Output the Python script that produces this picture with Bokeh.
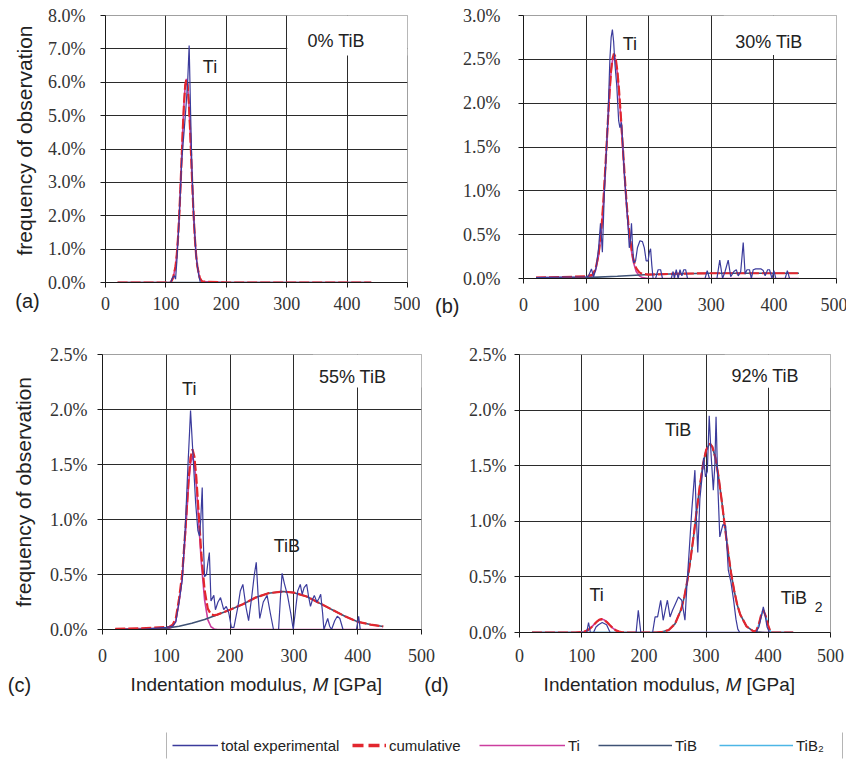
from math import pi
from bokeh.plotting import figure
from bokeh.models import (Range1d, FixedTicker, PrintfTickFormatter, Label,
                          BoxAnnotation, Legend, LegendItem)
from bokeh.layouts import column, row
from bokeh.embed import file_html
from bokeh.resources import INLINE

# ---------------- data (percent of observations vs indentation modulus, GPa) -------------
X_TICKS = [0, 100, 200, 300, 400, 500]
X_GRID = [100, 200, 300, 400]
A_YTICKS = [0, 1, 2, 3, 4, 5, 6, 7, 8]
B_YTICKS = [0, 0.5, 1.0, 1.5, 2.0, 2.5, 3.0]
CD_YTICKS = [0, 0.5, 1.0, 1.5, 2.0, 2.5]

# (a) 0% TiB
a_exp_x = [20, 60, 100, 108, 111, 114, 116, 118, 122, 126, 130, 133, 136, 138.5, 141, 143, 146, 150, 154, 157, 200, 300, 440]
a_exp_y = [0, 0, 0, 0, 0.15, 0.2, 0.1, 0.6, 1.9, 3.6, 4.5, 5.2, 6.0, 7.1, 5.0, 3.5, 2.0, 0.8, 0.25, 0, 0, 0, 0]
a_ti_x = [20, 60, 100, 108, 112, 116, 118, 120, 122, 124, 126, 128, 130, 132, 134, 136, 138, 140, 142, 144,
          146, 148, 150, 152, 156, 160, 200, 300, 440]
a_ti_y = [0, 0, 0, 0.0, 0.14, 0.49, 0.83, 1.32, 1.98, 2.79, 3.7, 4.6, 5.38, 5.91, 6.1, 5.91, 5.38, 4.6, 3.7, 2.79,
          1.98, 1.32, 0.83, 0.49, 0.14, 0.03, 0, 0, 0]
a_tib_x = [20, 440]
a_tib_y = [0, 0]
a_cum_x = [20, 60, 100, 108, 112, 116, 118, 120, 122, 124, 126, 128, 130, 132, 134, 136, 138, 140, 142, 144,
           146, 148, 150, 152, 156, 160, 200, 300, 440]
a_cum_y = [0, 0, 0, 0.0, 0.14, 0.49, 0.83, 1.32, 1.98, 2.79, 3.7, 4.6, 5.38, 5.91, 6.1, 5.91, 5.38, 4.6, 3.7, 2.79,
           1.98, 1.32, 0.83, 0.49, 0.14, 0.03, 0, 0, 0]

# (b) 30% TiB
b_exp_x = [20, 60, 100, 104, 108.5, 112, 116, 120, 123, 126, 129, 132, 135, 138, 140, 142, 144, 146, 149, 152,
           154, 156.5, 158.5, 161, 164, 167, 169, 170.5, 172.5, 174, 176, 179, 182, 186, 190, 193, 196, 199, 201, 203,
           205, 207, 211, 215, 219, 222, 236, 239, 241, 244, 247, 250, 253, 256, 259, 262, 290, 293.5, 297, 309,
           313.5, 318, 322, 327, 331, 336, 340, 343, 347, 351, 354, 357, 361, 364, 367, 371, 375, 379, 383, 386,
           390, 393, 397, 400, 403, 418, 421.5, 425, 440]
b_exp_y = [0.01, 0.015, 0.02, 0.03, 0.11, 0.02, 0.12, 0.35, 0.63, 0.3, 0.95, 1.4, 1.85, 2.5, 2.75, 2.84, 2.7, 2.45, 2.2, 1.8,
           1.72, 1.78, 1.55, 1.2, 0.9, 0.6, 0.35, 0.4, 0.63, 0.4, 0.18, 0.2, 0.35, 0.43, 0.42, 0.35, 0.2, 0.2, 0.3, 0.34,
           0.15, 0.0, 0.0, 0.1, 0.1, 0.0, 0.0, 0.08, 0.0, 0.1, 0.0, 0.1, 0.03, 0.1, 0.1, 0.0, 0.0, 0.09, 0.0, 0.0,
           0.21, 0.0, 0.08, 0.21, 0.02, 0.08, 0.1, 0.03, 0.08, 0.41, 0.05, 0.1, 0.1, 0.0, 0.1, 0.11, 0.11, 0.11, 0.09, 0.03,
           0.1, 0.1, 0.0, 0.09, 0.0, 0.0, 0.09, 0.0, 0.0]
b_ti_x = [20, 60, 100, 110, 115, 120, 125, 127.5, 130, 132.5, 135, 137.5, 140, 142, 144.5, 147, 150, 152.5, 155, 157.5,
          160, 162.5, 165, 167.5, 170, 175, 180, 185, 190, 200, 250, 300, 350, 400, 440]
b_ti_y = [0.01, 0.01, 0.015, 0.03, 0.09, 0.26, 0.6, 0.85, 1.15, 1.47, 1.8, 2.11, 2.36, 2.48, 2.54, 2.5, 2.34, 2.13, 1.88, 1.6,
          1.32, 1.05, 0.8, 0.59, 0.43, 0.2, 0.08, 0.03, 0.01, 0, 0, 0, 0, 0, 0]
b_tib_x = [20, 60, 100, 110, 150, 200, 250, 300, 350, 400, 440]
b_tib_y = [0.0, 0.005, 0.01, 0.013, 0.025, 0.045, 0.055, 0.06, 0.06, 0.06, 0.06]
b_cum_x = [20, 60, 100, 110, 115, 120, 125, 127.5, 130, 132.5, 135, 137.5, 140, 142, 144.5, 147, 150, 152.5, 155, 157.5,
           160, 162.5, 165, 167.5, 170, 175, 180, 185, 190, 200, 250, 300, 350, 400, 440]
b_cum_y = [0.01, 0.015, 0.025, 0.043, 0.105, 0.276, 0.618, 0.869, 1.17, 1.491, 1.821, 2.132, 2.383, 2.504, 2.565, 2.525,
           2.365, 2.157, 1.908, 1.629, 1.35, 1.081, 0.832, 0.623, 0.464, 0.236, 0.118, 0.07, 0.052, 0.045,
           0.055, 0.06, 0.06, 0.06, 0.06]

# (c) 55% TiB
c_exp_x = [20, 60, 100, 110, 115, 120, 125, 130, 134, 136.5, 138, 142, 146, 149.5, 152, 154, 156.3, 158, 160, 163,
           165, 167.5, 170, 174.5, 177, 181, 185, 190, 194, 198, 202, 206, 212, 216, 220, 225, 229, 234, 238, 241,
           244, 246.5, 252, 258, 263, 268, 276, 279, 281.5, 285, 290, 295, 299, 303, 306, 310, 313, 316, 320, 323,
           326, 329, 332, 336, 339, 342, 345, 347, 350, 353, 356, 359, 364, 368, 372, 377, 398, 401.5, 404, 440]
c_exp_y = [0.0, 0.0, 0.02, 0.03, 0.07, 0.25, 0.45, 0.96, 1.5, 1.8, 1.99, 1.57, 1.15, 0.9, 0.85, 1.0, 1.29, 0.8, 0.48, 0.5,
           0.6, 0.7, 0.26, 0.31, 0.18, 0.25, 0.29, 0.18, 0.21, 0.15, 0.02, 0.02, 0.2, 0.35, 0.41, 0.2, 0.08, 0.3, 0.5, 0.61,
           0.3, 0.1, 0.25, 0.31, 0.15, 0.0, 0.0, 0.3, 0.51, 0.42, 0.31, 0.15, 0.0, 0.2, 0.35, 0.41, 0.32, 0.38, 0.41, 0.3,
           0.21, 0.27, 0.31, 0.25, 0.28, 0.32, 0.15, 0.0, 0.05, 0.1, 0.03, 0.0, 0.08, 0.12, 0.1, 0.0, 0.0, 0.12, 0.0, 0.0]
c_ti_x = [20, 60, 100, 105, 110, 115, 120, 125, 130, 135, 138, 141, 144, 147, 150, 155, 160, 165, 170, 175, 180, 440]
c_ti_y = [0.005, 0.008, 0.01, 0.01, 0.025, 0.08, 0.25, 0.47, 0.87, 1.32, 1.51, 1.58, 1.51, 1.32, 1.05, 0.6, 0.27, 0.09,
          0.025, 0.005, 0, 0]
c_tib_x = [20, 60, 100, 120, 140, 160, 180, 200, 220, 240, 260, 283, 300, 320, 340, 360, 380, 400, 420, 440]
c_tib_y = [0.0, 0.003, 0.012, 0.03, 0.057, 0.09, 0.135, 0.18, 0.23, 0.29, 0.33, 0.345, 0.335, 0.3, 0.24, 0.18, 0.12,
           0.07, 0.045, 0.028]
c_cum_x = [20, 60, 100, 105, 110, 115, 120, 125, 130, 135, 138, 141, 144, 147, 150, 155, 160, 165, 170, 175,
           180, 200, 220, 240, 260, 283, 300, 320, 340, 360, 380, 400, 420, 440]
c_cum_y = [0.005, 0.011, 0.022, 0.025, 0.043, 0.104, 0.28, 0.506, 0.913, 1.37, 1.564, 1.638, 1.572, 1.387, 1.122, 0.68,
           0.36, 0.19, 0.137, 0.129, 0.135, 0.18, 0.23, 0.29, 0.33, 0.345, 0.335, 0.3, 0.24, 0.18, 0.12, 0.07, 0.045, 0.028]

# (d) 92% TiB
d_exp_x = [20, 105, 108, 111, 114, 119, 123, 127, 133, 140, 145.7, 187.5, 191, 195, 214, 218, 222, 227, 231, 235,
           237.8, 242, 246, 250, 255.5, 260.8, 264, 266, 269, 273, 277, 282, 284, 286.6, 290, 293, 296, 299, 302, 305,
           308, 311.6, 314, 316, 319, 322, 327, 331.5, 335.7, 340, 344, 348, 351, 354, 380, 385, 389, 392, 395, 398,
           402, 440]
d_exp_y = [0, 0, 0, 0.09, 0.0, 0.0, 0.05, 0.07, 0.09, 0.07, 0.0, 0.0, 0.2, 0.0, 0.0, 0.14, 0.14, 0.29, 0.11, 0.22,
           0.29, 0.14, 0.2, 0.25, 0.32, 0.29, 0.18, 0.11, 0.41, 0.75, 1.1, 1.46, 1.1, 0.72, 1.2, 1.37, 1.57, 1.4, 1.45, 1.95,
           1.6, 1.28, 1.5, 1.94, 1.3, 0.86, 0.97, 0.96, 0.56, 0.45, 0.3, 0.12, 0.03, 0.0, 0.0, 0.05, 0.15, 0.23, 0.15, 0.05,
           0.0, 0.0]
d_ti_x = [20, 90, 100, 105, 110, 115, 120, 125, 128, 132, 136, 140, 145, 150, 155, 160, 165, 170, 440]
d_ti_y = [0, 0, 0.0035, 0.0095, 0.022, 0.044, 0.073, 0.101, 0.114, 0.12, 0.114, 0.096, 0.067, 0.039, 0.019, 0.008,
          0.002, 0, 0]
d_tib_x = [20, 220, 230, 240, 250, 260, 265, 270, 275, 280, 285, 290, 295, 300, 306, 310, 315, 320, 325, 330,
           335, 340, 345, 350, 355, 365, 375, 385, 395, 440]
d_tib_y = [0, 0, 0.006, 0.023, 0.077, 0.21, 0.32, 0.47, 0.66, 0.87, 1.1, 1.32, 1.51, 1.64, 1.70, 1.67, 1.57, 1.40, 1.19,
           0.96, 0.74, 0.54, 0.38, 0.25, 0.16, 0.055, 0.015, 0.003, 0, 0]
d_tib2_x = [20, 380, 385, 388, 392, 396, 399, 404, 440]
d_tib2_y = [0, 0, 0.075, 0.145, 0.2, 0.145, 0.075, 0, 0]
d_cum_x = [20, 90, 100, 105, 110, 115, 120, 125, 128, 132, 136, 140, 145, 150, 155, 160, 165, 170, 220, 230,
           240, 250, 260, 265, 270, 275, 280, 285, 290, 295, 300, 306, 310, 315, 320, 325, 330, 335, 340, 345,
           350, 355, 365, 375, 380, 385, 388, 392, 396, 399, 404, 440]
d_cum_y = [0, 0, 0.0035, 0.0095, 0.022, 0.044, 0.073, 0.101, 0.114, 0.12, 0.114, 0.096, 0.067, 0.039, 0.019, 0.008,
           0.002, 0, 0, 0.006, 0.023, 0.077, 0.21, 0.32, 0.47, 0.66, 0.87, 1.1, 1.32, 1.51, 1.64, 1.70, 1.67, 1.57, 1.40,
           1.19, 0.96, 0.74, 0.54, 0.38, 0.25, 0.16, 0.055, 0.015, 0.008, 0.078, 0.147, 0.201, 0.145, 0.075, 0, 0]

SERIES_NAMES = ["total experimental", "cumulative", "Ti", "TiB", "TiB\u2082"]
Y_TITLE = "frequency of observation"
X_TITLE_PARTS = ["Indentation modulus,", "M", "[GPa]"]

# ---------------- styles ----------------
C_EXP = "#3b3b9c"
C_CUM = "#e2262e"
C_TI = "#cc3d9e"
C_TIB = "#3f5275"
C_TIB2 = "#4cb6e6"
SERIF = "Liberation Serif"
SANS = "Liberation Sans"
TXT = "#222222"
ROW1_TOP = 15   # frames in one row share their top border


def make_panel(fw, fh, bl, br, bt, bb, ymax, yticks, xstand, ystand, ylabel=None):
    p = figure(frame_width=fw, frame_height=fh,
               min_border_left=bl, min_border_right=br, min_border_top=bt, min_border_bottom=bb,
               x_range=Range1d(0, 500), y_range=Range1d(0, ymax),
               output_backend="svg", toolbar_location=None, title=None)
    p.background_fill_color = "white"
    p.border_fill_color = "white"
    p.outline_line_color = "#a0a0a0"
    p.xaxis.ticker = FixedTicker(ticks=X_TICKS)
    p.yaxis.ticker = FixedTicker(ticks=yticks)
    p.yaxis.formatter = PrintfTickFormatter(format="%.1f%%")
    p.xgrid.ticker = FixedTicker(ticks=X_GRID)
    p.ygrid.ticker = FixedTicker(ticks=yticks[1:-1])
    for g in (p.xgrid, p.ygrid):
        g.grid_line_color = "#2b2b2b"
        g.grid_line_width = 1
    for ax in (p.xaxis, p.yaxis):
        ax.axis_line_color = "#1a1a1a"
        ax.major_tick_line_color = "#1a1a1a"
        ax.major_tick_in = 0
        ax.major_tick_out = 5
        ax.minor_tick_line_color = None
        ax.major_label_text_font = SERIF
        ax.major_label_text_font_size = "18px"
        ax.major_label_text_color = "#333333"
    p.xaxis.major_label_standoff = xstand
    p.yaxis.major_label_standoff = ystand
    if ylabel:
        p.yaxis.axis_label = ylabel
        p.yaxis.axis_label_text_font = SANS
        p.yaxis.axis_label_text_font_size = "21px"
        p.yaxis.axis_label_text_font_style = "normal"
        p.yaxis.axis_label_text_color = TXT
        p.yaxis.axis_label_standoff = 12
    return p


def strip(w, h, top=0):
    s = figure(frame_width=w, frame_height=h, min_border_left=0, min_border_right=0,
               min_border_top=top, min_border_bottom=0, x_range=Range1d(0, w), y_range=Range1d(0, h),
               x_axis_location=None, y_axis_location=None, output_backend="svg",
               toolbar_location=None, title=None)
    s.outline_line_color = None
    s.background_fill_color = "white"
    s.border_fill_color = "white"
    for g in s.grid:
        g.visible = False
    return s


def draw(p, ti, tib, cum, exp, tib2=None):
    p.line(ti[0], ti[1], line_color=C_TI, line_width=1.6)
    p.line(tib[0], tib[1], line_color=C_TIB, line_width=1.6)
    if tib2 is not None:
        p.line(tib2[0], tib2[1], line_color=C_TIB2, line_width=1.6)
    p.line(cum[0], cum[1], line_color=C_CUM, line_width=2.2, line_dash="10 3")
    p.line(exp[0], exp[1], line_color=C_EXP, line_width=1.2)


def text(p, x, y, s, size="18px", align="center", style="normal", angle=0.0):
    p.add_layout(Label(x=x, y=y, text=s, text_font=SANS, angle=angle,
                       text_font_size=size, text_align=align, text_baseline="middle",
                       text_color=TXT, text_font_style=style))


def white_box(p, left, bottom, top):
    p.add_layout(BoxAnnotation(left=left, right=500, bottom=bottom, top=top, fill_color="white",
                               fill_alpha=1.0, line_color=None, level="underlay"))


# ---- row 1 (all frames start at ROW1_TOP, every child 330 px tall) ----
sa = strip(45, 330 - ROW1_TOP, ROW1_TOP)
text(sa, 23.5, 190, Y_TITLE, size="21px", angle=pi / 2)
text(sa, 27, 30, "(a)", size="20px")

pa = make_panel(302, 267, 60, 13, ROW1_TOP, 48, 8, A_YTICKS, 9, 15)
white_box(pa, 301, 6.8, 8)
draw(pa, (a_ti_x, a_ti_y), (a_tib_x, a_tib_y), (a_cum_x, a_cum_y), (a_exp_x, a_exp_y))
text(pa, 382, 7.23, "0% TiB")
text(pa, 173, 6.47, "Ti")

sb = strip(40, 330 - ROW1_TOP, ROW1_TOP)
text(sb, 39, 25, "(b)", size="20px", align="right")

pb = make_panel(313, 263, 62, 11, ROW1_TOP, 52, 3.0, B_YTICKS, 14, 18)
white_box(pb, 320, 2.55, 3.0)
draw(pb, (b_ti_x, b_ti_y), (b_tib_x, b_tib_y), (b_cum_x, b_cum_y), (b_exp_x, b_exp_y))
text(pb, 392, 2.70, "30% TiB")
text(pb, 170, 2.67, "Ti")

# ---- row 2 ----
pc = make_panel(319, 275, 102, 19, 24, 41, 2.5, CD_YTICKS, 14, 10, Y_TITLE)
white_box(pc, 330, 2.2, 2.5)
draw(pc, (c_ti_x, c_ti_y), (c_tib_x, c_tib_y), (c_cum_x, c_cum_y), (c_exp_x, c_exp_y))
text(pc, 392, 2.30, "55% TiB")
text(pc, 136, 2.19, "Ti")
text(pc, 289, 0.757, "TiB")

pd = make_panel(311, 278, 79, 16, 24, 38, 2.5, CD_YTICKS, 11, 8)
white_box(pd, 330, 2.2, 2.5)
draw(pd, (d_ti_x, d_ti_y), (d_tib_x, d_tib_y), (d_cum_x, d_cum_y), (d_exp_x, d_exp_y),
     tib2=(d_tib2_x, d_tib2_y))
text(pd, 395, 2.31, "92% TiB")
text(pd, 255, 1.82, "TiB")
text(pd, 124, 0.34, "Ti")
text(pd, 441, 0.306, "TiB")
text(pd, 481, 0.225, "2", size="14px")

# ---- bottom strip: x titles, panel tags, legend ----
bot = strip(846, 93)
for cx in (256, 669):
    text(bot, cx + 50.5, 79, X_TITLE_PARTS[0], size="19px", align="right")
    text(bot, cx + 56, 79, X_TITLE_PARTS[1], size="19px", align="left", style="italic")
    text(bot, cx + 77, 79, X_TITLE_PARTS[2], size="19px", align="left")
text(bot, 19, 79, "(c)", size="20px")
text(bot, 436, 79, "(d)", size="20px")

styles = [dict(line_color=C_EXP, line_width=1.5),
          dict(line_color=C_CUM, line_width=3.5, line_dash="11 5"),
          dict(line_color=C_TI, line_width=1.5),
          dict(line_color=C_TIB, line_width=1.5),
          dict(line_color=C_TIB2, line_width=1.5)]
leg_x = [172, 352, 479, 598, 719]
leg_w = [46, 34, 86, 74, 74]
for name, st, lx, lw in zip(SERIES_NAMES, styles, leg_x, leg_w):
    r = bot.line(x=[-60, -50], y=[-60, -60], **st)
    bot.add_layout(Legend(items=[LegendItem(label=name, renderers=[r])], location=(lx, 8),
                          orientation="horizontal", glyph_width=lw, glyph_height=20, label_height=20,
                          label_standoff=3, padding=0, margin=0, border_line_color=None,
                          background_fill_alpha=0, label_text_font=SANS, label_text_font_size="15px",
                          label_text_color=TXT), "center")
bot.segment(x0=[166, 842], y0=[5, 5], x1=[166, 842], y1=[31, 31], line_color="#b5b5b5", line_width=1)

layout = column(row(sa, pa, sb, pb), row(pc, pd), bot)
open("out.html", "w").write(file_html(layout, INLINE))
